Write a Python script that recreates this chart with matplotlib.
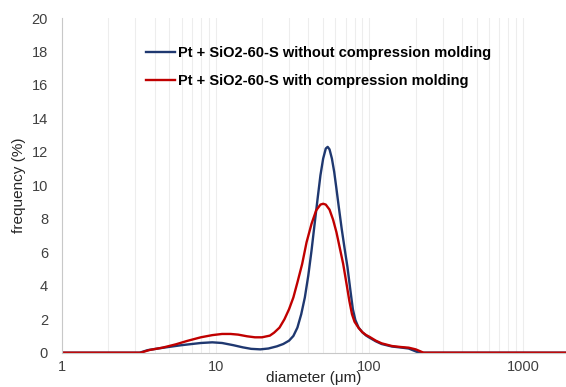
import numpy as np
import matplotlib
matplotlib.use("Agg")
import matplotlib.pyplot as plt
from matplotlib.ticker import LogLocator, FixedLocator, NullFormatter, FuncFormatter

plt.rcParams['font.family'] = ['Liberation Sans', 'DejaVu Sans']

# particle size distribution
d_blue = [1, 3.2, 3.6, 4.2, 5, 6, 7, 8, 9.5, 11, 13, 15, 17, 19.5, 22, 25, 27.5,
          30, 32, 34, 36, 38, 40, 42, 44, 46, 48, 50, 52, 53.5, 55, 57, 59, 61,
          63, 66, 69, 72, 75, 78, 81, 85, 90, 95, 100, 110, 120, 140, 160, 180,
          195, 210, 1900]
f_blue = [0, 0, 0.15, 0.25, 0.35, 0.45, 0.52, 0.58, 0.62, 0.58, 0.45, 0.32, 0.23,
          0.2, 0.25, 0.38, 0.52, 0.72, 1.0, 1.5, 2.3, 3.3, 4.6, 6.1, 7.7, 9.2,
          10.6, 11.6, 12.2, 12.3, 12.15, 11.6, 10.8, 9.8, 8.8, 7.4, 6.2, 5.1, 3.8,
          2.6, 1.95, 1.5, 1.22, 1.03, 0.9, 0.68, 0.52, 0.37, 0.31, 0.25, 0.12,
          0.0, 0]

d_red = [1, 3.25, 3.7, 4.5, 5.5, 6.5, 8, 9.5, 11, 12.5, 14, 16, 18, 20, 22.5, 24,
         26, 28, 30, 32, 34, 36.5, 39, 42, 45, 48, 50, 52, 55, 58, 61, 64, 67.5,
         71, 74, 77, 80, 85, 90, 95, 100, 110, 120, 140, 160, 180, 200, 225, 1900]
f_red = [0, 0, 0.16, 0.3, 0.5, 0.7, 0.92, 1.05, 1.12, 1.12, 1.08, 0.98, 0.92, 0.92,
         1.02, 1.2, 1.5, 2.0, 2.6, 3.3, 4.2, 5.3, 6.6, 7.7, 8.5, 8.85, 8.9, 8.85,
         8.55, 7.95, 7.2, 6.3, 5.3, 4.1, 3.1, 2.3, 1.85, 1.48, 1.22, 1.06, 0.95,
         0.72, 0.56, 0.4, 0.34, 0.3, 0.2, 0.0, 0]

label_blue = "Pt + SiO2-60-S without compression molding"
label_red = "Pt + SiO2-60-S with compression molding"

fig = plt.figure(figsize=(5.66, 3.87), dpi=100)
ax = fig.add_axes([62/566, 34.3/387, 1 - 62/566, 334.7/387])

ax.plot(d_blue, f_blue, color="#1f3870", lw=1.7, label=label_blue)
ax.plot(d_red, f_red, color="#c00000", lw=1.7, label=label_red)

ax.set_xscale("log")
ax.set_xlim(1, 1900)
ax.set_ylim(0, 20)
ax.set_yticks(np.arange(0, 21, 2))
ax.xaxis.set_major_locator(FixedLocator([1, 10, 100, 1000]))
ax.xaxis.set_major_formatter(FuncFormatter(lambda v, p: "%d" % v))
ax.xaxis.set_minor_locator(LogLocator(base=10, subs=np.arange(2, 10)))
ax.xaxis.set_minor_formatter(NullFormatter())

ax.grid(True, axis="x", which="both", color="#ededed", lw=0.8)
ax.set_axisbelow(True)
for s in ["top", "right"]:
    ax.spines[s].set_visible(False)
ax.spines["left"].set_color("#c8c8c8")
ax.spines["bottom"].set_color("#c8c8c8")
ax.tick_params(axis="both", which="both", length=0, labelsize=10.5, colors="#404040")
ax.tick_params(axis="y", pad=10)
ax.tick_params(axis="x", pad=5)

ax.set_xlabel("diameter (μm)", fontsize=11, color="#262626")
ax.set_ylabel("frequency (%)", fontsize=11, color="#262626")
ax.xaxis.set_label_coords(0.5, -0.056)
ax.yaxis.set_label_coords(-0.071, 0.5)

leg = ax.legend(loc="upper left", bbox_to_anchor=(133/566, 1 - 33/387),
                bbox_transform=fig.transFigure, frameon=False,
                prop={"weight": "bold", "size": 10.5}, handlelength=2.0,
                handletextpad=0.2, labelspacing=0.95)

fig.savefig("out.png", dpi=100)
